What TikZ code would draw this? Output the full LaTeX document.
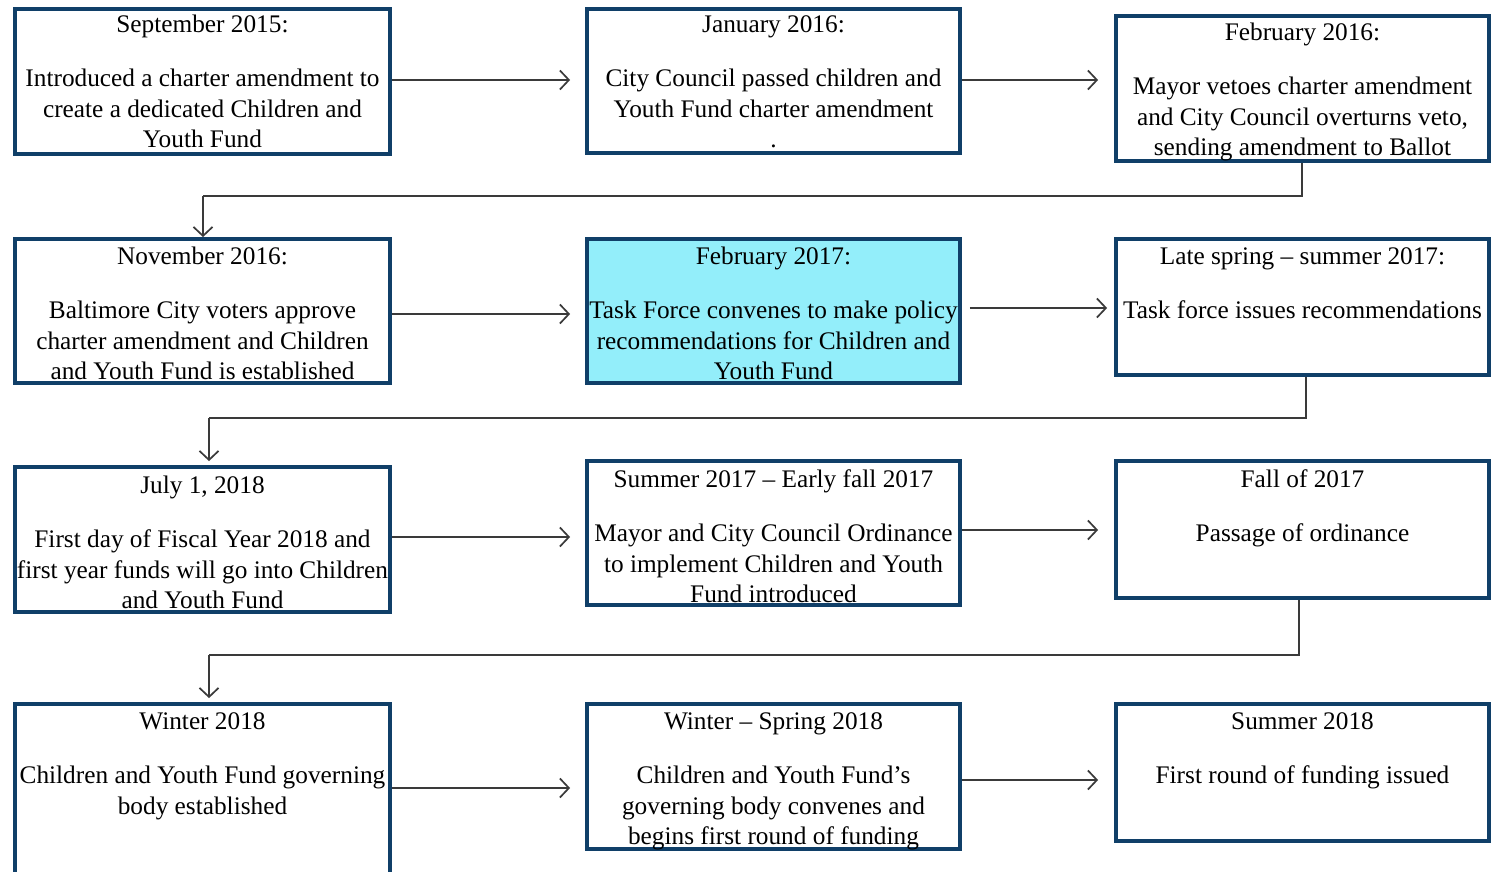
\documentclass[tikz,border=0pt]{standalone}
\usepackage{fontspec}
\setmainfont{Liberation Serif}
\usetikzlibrary{arrows.meta}
\definecolor{navy}{HTML}{103F68}
\definecolor{cyanfill}{HTML}{93EEFA}
\definecolor{conngray}{HTML}{3A3A3A}
\tikzset{
  box/.style={draw=navy, line width=3.8pt, fill=white, rectangle, inner sep=0pt},
  hlbox/.style={box, fill=cyanfill},
  txt/.style={anchor=north, align=center, inner sep=0pt, font=\fontsize{25.3}{30.5}\selectfont},
  conn/.style={draw=conngray, line width=1.7pt, -{Straight Barb[length=9pt,width=19pt,line width=1.7pt]}},
  seg/.style={draw=conngray, line width=1.7pt}
}
\begin{document}
\begin{tikzpicture}[x=1pt, y=-1pt]
\useasboundingbox (0,0) rectangle (1497,872);
\clip (0,0) rectangle (1497,872);
\fill[white] (0,0) rectangle (1497,872);
% Row 1
\node[box, minimum width=375pt, minimum height=145pt] (A1) at (202.5,81.5) {};
\node[box, minimum width=373pt, minimum height=144pt] (A2) at (773.5,81) {};
\node[box, minimum width=373pt, minimum height=145pt] (A3) at (1302.5,88.5) {};
% Row 2
\node[box, minimum width=375pt, minimum height=144pt] (B1) at (202.5,311) {};
\node[hlbox, minimum width=373pt, minimum height=144pt] (B2) at (773.5,311) {};
\node[box, minimum width=373pt, minimum height=136pt] (B3) at (1302.5,307) {};
% Row 3
\node[box, minimum width=375pt, minimum height=145pt] (C1) at (202.5,539.5) {};
\node[box, minimum width=373pt, minimum height=144pt] (C2) at (773.5,533) {};
\node[box, minimum width=373pt, minimum height=137pt] (C3) at (1302.5,529.5) {};
% Row 4
\node[box, minimum width=375pt, minimum height=182pt] (D1) at (202.5,795) {};
\node[box, minimum width=373pt, minimum height=145pt] (D2) at (773.5,776.5) {};
\node[box, minimum width=373pt, minimum height=137pt] (D3) at (1302.5,772.5) {};

% Texts
\node[txt] (tA1) at (202.5,10.6) {\strut September 2015:\\[24pt]Introduced a charter amendment to\\create a dedicated Children and\\Youth Fund};
\node[txt] (tA2) at (773.5,10.6) {\strut January 2016:\\[24pt]City Council passed children and\\Youth Fund charter amendment\\.};
\node[txt] (tA3) at (1302.5,18.6) {\strut February 2016:\\[24pt]Mayor vetoes charter amendment\\and City Council overturns veto,\\sending amendment to Ballot};
\node[txt] (tB1) at (202.5,242.6) {\strut November 2016:\\[24pt]Baltimore City voters approve\\charter amendment and Children\\and Youth Fund is established};
\node[txt] (tB2) at (773.5,242.6) {\strut February 2017:\\[24pt]Task Force convenes to make policy\\recommendations for Children and\\Youth Fund};
\node[txt] (tB3) at (1302.5,242.6) {\strut Late spring -- summer 2017:\\[24pt]Task force issues recommendations};
\node[txt] (tC1) at (202.5,471.6) {\strut July 1, 2018\\[24pt]First day of Fiscal Year 2018 and\\first year funds will go into Children\\and Youth Fund};
\node[txt] (tC2) at (773.5,465.6) {\strut Summer 2017 -- Early fall 2017\\[24pt]Mayor and City Council Ordinance\\to implement Children and Youth\\Fund introduced};
\node[txt] (tC3) at (1302.5,465.6) {\strut Fall of 2017\\[24pt]Passage of ordinance};
\node[txt] (tD1) at (202.5,707.6) {\strut Winter 2018\\[24pt]Children and Youth Fund governing\\body established};
\node[txt] (tD2) at (773.5,707.6) {\strut Winter -- Spring 2018\\[24pt]Children and Youth Fund’s\\governing body convenes and\\begins first round of funding};
\node[txt] (tD3) at (1302.5,707.6) {\strut Summer 2018\\[24pt]First round of funding issued};

% Horizontal arrows
\draw[conn, shorten >=15pt] (A1.east |- 0,80) -- (A2.west |- 0,80);
\draw[conn, shorten >=16pt] (A2.east |- 0,80) -- (A3.west |- 0,80);
\draw[conn, shorten >=15pt] (B1.east |- 0,314) -- (B2.west |- 0,314);
\draw[conn, shorten <=8pt, shorten >=7pt] (B2.east |- 0,308) -- (B3.west |- 0,308);
\draw[conn, shorten >=15pt] (C1.east |- 0,537) -- (C2.west |- 0,537);
\draw[conn, shorten >=16pt] (C2.east |- 0,530) -- (C3.west |- 0,530);
\draw[conn, shorten >=15pt] (D1.east |- 0,788) -- (D2.west |- 0,788);
\draw[conn, shorten >=16pt] (D2.east |- 0,780) -- (D3.west |- 0,780);

% Row-to-row connectors
\coordinate (j1a) at (1302,196);
\coordinate (j1b) at (203,196);
\draw[seg] (A3.south -| j1a) -- (j1a) -- (j1b);
\draw[conn] (j1b) -- (j1b |- B1.north);

\coordinate (j2a) at (1306,418);
\coordinate (j2b) at (209,418);
\draw[seg] (B3.south -| j2a) -- (j2a) -- (j2b);
\draw[conn, shorten >=4pt] (j2b) -- (j2b |- C1.north);

\coordinate (j3a) at (1299,655);
\coordinate (j3b) at (209,655);
\draw[seg] (C3.south -| j3a) -- (j3a) -- (j3b);
\draw[conn, shorten >=4pt] (j3b) -- (j3b |- D1.north);
\end{tikzpicture}
\end{document}
